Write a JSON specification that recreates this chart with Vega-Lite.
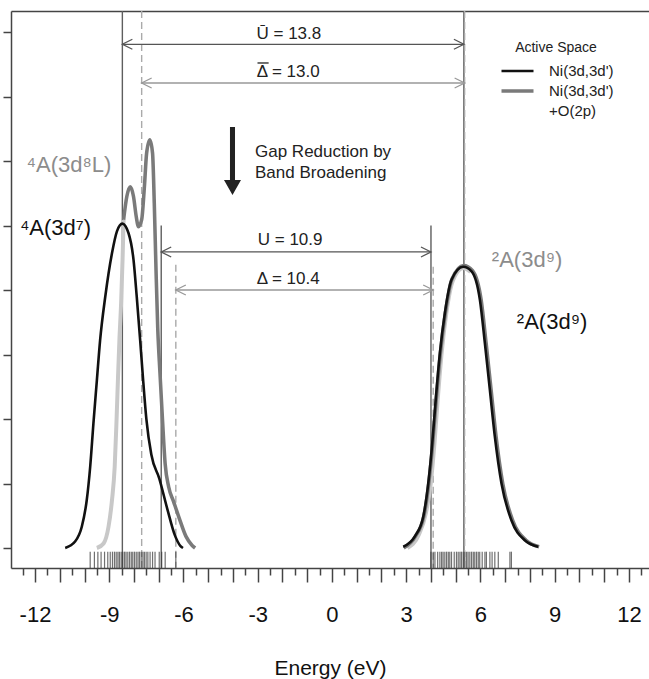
{
  "$schema": "https://vega.github.io/schema/vega-lite/v6.json",
  "width": 638,
  "height": 557,
  "autosize": "none",
  "padding": {"left": 11, "top": 11, "right": 0, "bottom": 111},
  "config": {
    "view": {"stroke": null},
    "axis": {"grid": false},
    "font": "Liberation Sans"
  },
  "datasets": {
    "vlines": [
      {"kind": "U", "x": -8.47, "ytop": 8.326},
      {"kind": "U", "x": 5.33, "ytop": 8.326},
      {"kind": "D", "x": -7.69, "ytop": 8.326},
      {"kind": "D", "x": 5.36, "ytop": 8.326},
      {"kind": "U", "x": -6.9, "ytop": 5.0},
      {"kind": "U", "x": 4.0, "ytop": 5.0},
      {"kind": "D", "x": -6.31, "ytop": 4.39},
      {"kind": "D", "x": 4.09, "ytop": 4.36}
    ],
    "arrows": [
      {"kind": "U", "x1": -8.47, "x2": 5.33, "y": 7.81},
      {"kind": "D", "x1": -7.69, "x2": 5.36, "y": 7.21},
      {"kind": "U", "x1": -6.9, "x2": 4.0, "y": 4.59},
      {"kind": "D", "x1": -6.31, "x2": 4.09, "y": 4.0}
    ],
    "arrowLabels": [
      {"label": "Ū = 13.8", "x": -3.05, "y": 7.89},
      {"label": "Δ = 13.0", "x": -3.04, "y": 7.3},
      {"label": "U = 10.9", "x": -3.0, "y": 4.7},
      {"label": "Δ = 10.4", "x": -3.04, "y": 4.1}
    ],
    "bars": [
      {"x": -3.01, "x2": -2.56, "y": 7.52}
    ],
    "gap": [{"x": -4.02, "y": 6.0}],
    "gapText": [
      {"label": "Gap Reduction by", "x": -3.11, "y": 6.06},
      {"label": "Band Broadening", "x": -3.11, "y": 5.74}
    ],
    "states": [
      {"label": "⁴A(3d⁸L)", "tone": "gray", "x": -12.34, "y": 5.83},
      {"label": "⁴A(3d⁷)", "tone": "black", "x": -12.61, "y": 4.85},
      {"label": "²A(3d⁹)", "tone": "gray", "x": 6.46, "y": 4.35},
      {"label": "²A(3d⁹)", "tone": "black", "x": 7.47, "y": 3.39}
    ],
    "rug": [
      {"x": -9.77}, {"x": -9.6}, {"x": -9.46}, {"x": -9.33}, {"x": -9.19}, {"x": -9.06}, {"x": -8.96}, {"x": -8.87}, {"x": -8.79}, {"x": -8.72}, {"x": -8.65}, {"x": -8.59}, {"x": -8.52}, {"x": -8.45}, {"x": -8.38}, {"x": -8.32}, {"x": -8.25}, {"x": -8.18}, {"x": -8.11}, {"x": -8.05}, {"x": -7.98}, {"x": -7.91}, {"x": -7.84}, {"x": -7.78}, {"x": -7.71}, {"x": -7.64}, {"x": -7.58}, {"x": -7.51}, {"x": -7.44}, {"x": -7.35}, {"x": -7.25}, {"x": -7.15}, {"x": -6.98}, {"x": -6.88}, {"x": -6.74}, {"x": -6.31},
      {"x": 4.0}, {"x": 4.09}, {"x": 4.16}, {"x": 4.27}, {"x": 4.36}, {"x": 4.43}, {"x": 4.49}, {"x": 4.56}, {"x": 4.63}, {"x": 4.7}, {"x": 4.76}, {"x": 4.83}, {"x": 4.94}, {"x": 5.03}, {"x": 5.1}, {"x": 5.17}, {"x": 5.23}, {"x": 5.3}, {"x": 5.37}, {"x": 5.44}, {"x": 5.5}, {"x": 5.57}, {"x": 5.64}, {"x": 5.71}, {"x": 5.77}, {"x": 5.84}, {"x": 5.91}, {"x": 5.97}, {"x": 6.07}, {"x": 6.18}, {"x": 6.24}, {"x": 6.38}, {"x": 6.47}, {"x": 6.58}, {"x": 6.72}, {"x": 7.19}, {"x": 7.25}
    ],
    "light": [
      {"seg": "L", "x": -9.5, "y": 0.0}, {"seg": "L", "x": -9.23, "y": 0.07}, {"seg": "L", "x": -9.03, "y": 0.33}, {"seg": "L", "x": -8.89, "y": 0.74}, {"seg": "L", "x": -8.78, "y": 1.26}, {"seg": "L", "x": -8.71, "y": 1.93}, {"seg": "L", "x": -8.65, "y": 2.6}, {"seg": "L", "x": -8.59, "y": 3.22}, {"seg": "L", "x": -8.52, "y": 3.8}, {"seg": "L", "x": -8.46, "y": 4.5}, {"seg": "L", "x": -8.42, "y": 5.09},
      {"seg": "R", "x": 3.05, "y": 0.0}, {"seg": "R", "x": 3.5, "y": 0.2}, {"seg": "R", "x": 3.8, "y": 0.55}, {"seg": "R", "x": 3.99, "y": 1.0}, {"seg": "R", "x": 4.14, "y": 1.62}, {"seg": "R", "x": 4.27, "y": 2.29}, {"seg": "R", "x": 4.43, "y": 3.02}, {"seg": "R", "x": 4.62, "y": 3.64}, {"seg": "R", "x": 4.88, "y": 4.14}, {"seg": "R", "x": 5.3, "y": 4.34}, {"seg": "R", "x": 5.6, "y": 4.28}
    ],
    "curves": [
      {"space": "Ni(3d,3d')+O(2p)", "seg": "L", "x": -8.42, "y": 5.09},
      {"space": "Ni(3d,3d')+O(2p)", "seg": "L", "x": -8.29, "y": 5.45},
      {"space": "Ni(3d,3d')+O(2p)", "seg": "L", "x": -8.15, "y": 5.6},
      {"space": "Ni(3d,3d')+O(2p)", "seg": "L", "x": -8.02, "y": 5.45},
      {"space": "Ni(3d,3d')+O(2p)", "seg": "L", "x": -7.91, "y": 5.14},
      {"space": "Ni(3d,3d')+O(2p)", "seg": "L", "x": -7.82, "y": 4.98},
      {"space": "Ni(3d,3d')+O(2p)", "seg": "L", "x": -7.69, "y": 5.09},
      {"space": "Ni(3d,3d')+O(2p)", "seg": "L", "x": -7.58, "y": 5.6},
      {"space": "Ni(3d,3d')+O(2p)", "seg": "L", "x": -7.49, "y": 6.12},
      {"space": "Ni(3d,3d')+O(2p)", "seg": "L", "x": -7.36, "y": 6.33},
      {"space": "Ni(3d,3d')+O(2p)", "seg": "L", "x": -7.25, "y": 6.12},
      {"space": "Ni(3d,3d')+O(2p)", "seg": "L", "x": -7.18, "y": 5.34},
      {"space": "Ni(3d,3d')+O(2p)", "seg": "L", "x": -7.11, "y": 4.31},
      {"space": "Ni(3d,3d')+O(2p)", "seg": "L", "x": -7.04, "y": 3.4},
      {"space": "Ni(3d,3d')+O(2p)", "seg": "L", "x": -6.95, "y": 2.71},
      {"space": "Ni(3d,3d')+O(2p)", "seg": "L", "x": -6.85, "y": 2.0},
      {"space": "Ni(3d,3d')+O(2p)", "seg": "L", "x": -6.74, "y": 1.3},
      {"space": "Ni(3d,3d')+O(2p)", "seg": "L", "x": -6.6, "y": 0.95},
      {"space": "Ni(3d,3d')+O(2p)", "seg": "L", "x": -6.4, "y": 0.72},
      {"space": "Ni(3d,3d')+O(2p)", "seg": "L", "x": -6.17, "y": 0.46},
      {"space": "Ni(3d,3d')+O(2p)", "seg": "L", "x": -5.9, "y": 0.18},
      {"space": "Ni(3d,3d')+O(2p)", "seg": "L", "x": -5.65, "y": 0.04},
      {"space": "Ni(3d,3d')+O(2p)", "seg": "L", "x": -5.53, "y": 0.0},
      {"space": "Ni(3d,3d')+O(2p)", "seg": "R", "x": 2.9, "y": 0.0},
      {"space": "Ni(3d,3d')+O(2p)", "seg": "R", "x": 3.37, "y": 0.18},
      {"space": "Ni(3d,3d')+O(2p)", "seg": "R", "x": 3.71, "y": 0.49},
      {"space": "Ni(3d,3d')+O(2p)", "seg": "R", "x": 3.91, "y": 1.0},
      {"space": "Ni(3d,3d')+O(2p)", "seg": "R", "x": 4.07, "y": 1.62},
      {"space": "Ni(3d,3d')+O(2p)", "seg": "R", "x": 4.21, "y": 2.29},
      {"space": "Ni(3d,3d')+O(2p)", "seg": "R", "x": 4.38, "y": 3.02},
      {"space": "Ni(3d,3d')+O(2p)", "seg": "R", "x": 4.58, "y": 3.64},
      {"space": "Ni(3d,3d')+O(2p)", "seg": "R", "x": 4.85, "y": 4.17},
      {"space": "Ni(3d,3d')+O(2p)", "seg": "R", "x": 5.32, "y": 4.38},
      {"space": "Ni(3d,3d')+O(2p)", "seg": "R", "x": 5.68, "y": 4.3},
      {"space": "Ni(3d,3d')+O(2p)", "seg": "R", "x": 6.03, "y": 3.84},
      {"space": "Ni(3d,3d')+O(2p)", "seg": "R", "x": 6.23, "y": 3.17},
      {"space": "Ni(3d,3d')+O(2p)", "seg": "R", "x": 6.43, "y": 2.45},
      {"space": "Ni(3d,3d')+O(2p)", "seg": "R", "x": 6.63, "y": 1.73},
      {"space": "Ni(3d,3d')+O(2p)", "seg": "R", "x": 6.9, "y": 1.0},
      {"space": "Ni(3d,3d')+O(2p)", "seg": "R", "x": 7.3, "y": 0.43},
      {"space": "Ni(3d,3d')+O(2p)", "seg": "R", "x": 7.84, "y": 0.12},
      {"space": "Ni(3d,3d')+O(2p)", "seg": "R", "x": 8.37, "y": 0.02},
      {"space": "Ni(3d,3d')", "seg": "L", "x": -10.78, "y": 0.0},
      {"space": "Ni(3d,3d')", "seg": "L", "x": -10.38, "y": 0.1},
      {"space": "Ni(3d,3d')", "seg": "L", "x": -10.11, "y": 0.33},
      {"space": "Ni(3d,3d')", "seg": "L", "x": -9.91, "y": 0.74},
      {"space": "Ni(3d,3d')", "seg": "L", "x": -9.77, "y": 1.26},
      {"space": "Ni(3d,3d')", "seg": "L", "x": -9.64, "y": 1.93},
      {"space": "Ni(3d,3d')", "seg": "L", "x": -9.5, "y": 2.6},
      {"space": "Ni(3d,3d')", "seg": "L", "x": -9.37, "y": 3.22},
      {"space": "Ni(3d,3d')", "seg": "L", "x": -9.16, "y": 3.9},
      {"space": "Ni(3d,3d')", "seg": "L", "x": -8.89, "y": 4.57},
      {"space": "Ni(3d,3d')", "seg": "L", "x": -8.69, "y": 4.91},
      {"space": "Ni(3d,3d')", "seg": "L", "x": -8.47, "y": 5.03},
      {"space": "Ni(3d,3d')", "seg": "L", "x": -8.22, "y": 4.88},
      {"space": "Ni(3d,3d')", "seg": "L", "x": -8.02, "y": 4.47},
      {"space": "Ni(3d,3d')", "seg": "L", "x": -7.89, "y": 3.9},
      {"space": "Ni(3d,3d')", "seg": "L", "x": -7.75, "y": 3.22},
      {"space": "Ni(3d,3d')", "seg": "L", "x": -7.64, "y": 2.65},
      {"space": "Ni(3d,3d')", "seg": "L", "x": -7.5, "y": 2.0},
      {"space": "Ni(3d,3d')", "seg": "L", "x": -7.3, "y": 1.45},
      {"space": "Ni(3d,3d')", "seg": "L", "x": -6.98, "y": 1.08},
      {"space": "Ni(3d,3d')", "seg": "L", "x": -6.65, "y": 0.6},
      {"space": "Ni(3d,3d')", "seg": "L", "x": -6.35, "y": 0.2},
      {"space": "Ni(3d,3d')", "seg": "L", "x": -6.12, "y": 0.03},
      {"space": "Ni(3d,3d')", "seg": "L", "x": -6.02, "y": 0.0},
      {"space": "Ni(3d,3d')", "seg": "R", "x": 2.88, "y": 0.02},
      {"space": "Ni(3d,3d')", "seg": "R", "x": 3.35, "y": 0.18},
      {"space": "Ni(3d,3d')", "seg": "R", "x": 3.69, "y": 0.49},
      {"space": "Ni(3d,3d')", "seg": "R", "x": 3.89, "y": 1.0},
      {"space": "Ni(3d,3d')", "seg": "R", "x": 4.05, "y": 1.62},
      {"space": "Ni(3d,3d')", "seg": "R", "x": 4.19, "y": 2.29},
      {"space": "Ni(3d,3d')", "seg": "R", "x": 4.36, "y": 3.02},
      {"space": "Ni(3d,3d')", "seg": "R", "x": 4.56, "y": 3.64},
      {"space": "Ni(3d,3d')", "seg": "R", "x": 4.83, "y": 4.16},
      {"space": "Ni(3d,3d')", "seg": "R", "x": 5.3, "y": 4.36},
      {"space": "Ni(3d,3d')", "seg": "R", "x": 5.64, "y": 4.29},
      {"space": "Ni(3d,3d')", "seg": "R", "x": 5.98, "y": 3.84},
      {"space": "Ni(3d,3d')", "seg": "R", "x": 6.18, "y": 3.17},
      {"space": "Ni(3d,3d')", "seg": "R", "x": 6.38, "y": 2.45},
      {"space": "Ni(3d,3d')", "seg": "R", "x": 6.58, "y": 1.73},
      {"space": "Ni(3d,3d')", "seg": "R", "x": 6.85, "y": 1.0},
      {"space": "Ni(3d,3d')", "seg": "R", "x": 7.25, "y": 0.43},
      {"space": "Ni(3d,3d')", "seg": "R", "x": 7.79, "y": 0.12},
      {"space": "Ni(3d,3d')", "seg": "R", "x": 8.33, "y": 0.02}
    ]
  },
  "resolve": {
    "axis": {"x": "independent", "y": "independent"},
    "scale": {"color": "independent", "strokeDash": "independent", "strokeWidth": "independent"}
  },
  "layer": [
    {
      "data": {"name": "vlines"},
      "mark": {"type": "rule", "strokeWidth": 1.4},
      "encoding": {
        "x": {"field": "x", "type": "quantitative",
          "scale": {"domain": [-12.97, 12.81], "nice": false, "zero": false},
          "axis": {"orient": "bottom", "values": [-12, -11, -10, -9, -8, -7, -6, -5, -4, -3, -2, -1, 0, 1, 2, 3, 4, 5, 6, 7, 8, 9, 10, 11, 12],
            "tickSize": 14, "tickWidth": 1.5, "tickColor": "#444", "domainColor": "#444", "domainWidth": 1.5,
            "labelExpr": "datum.value % 3 === 0 ? '' + datum.value : ''",
            "labelFont": "Liberation Sans", "labelFontSize": 22, "labelColor": "#111", "labelPadding": 22, "labelFlush": false, "labelOverlap": false,
            "title": "Energy (eV)", "titleFont": "Liberation Sans", "titleFontSize": 21, "titleFontWeight": "normal", "titleColor": "#111",
            "titleBaseline": "alphabetic", "titleY": 106}},
        "y": {"field": "ytop", "type": "quantitative",
          "scale": {"domain": [-0.31, 8.326], "nice": false, "zero": false},
          "axis": {"orient": "left", "values": [0, 1, 2, 3, 4, 5, 6, 7, 8], "labels": false, "title": null, "ticks": true, "tickSize": 8, "tickWidth": 1.5, "tickColor": "#444", "domain": true, "domainColor": "#444", "domainWidth": 1.5}},
        "y2": {"datum": -0.31},
        "color": {"field": "kind", "type": "nominal", "scale": {"domain": ["U", "D"], "range": ["#5e5e5e", "#aaaaaa"]}, "legend": null},
        "strokeDash": {"field": "kind", "type": "nominal", "scale": {"domain": ["U", "D"], "range": [[1, 0], [7, 4]]}, "legend": null}
      }
    },
    {
      "data": {"name": "rug"},
      "mark": {"type": "rule", "strokeWidth": 1.2, "color": "#333", "opacity": 0.7},
      "encoding": {
        "x": {"field": "x", "type": "quantitative",
          "scale": {"domain": [-12.97, 12.81], "nice": false, "zero": false},
          "axis": {"orient": "bottom", "values": [-12.5, -11.5, -10.5, -9.5, -8.5, -7.5, -6.5, -5.5, -4.5, -3.5, -2.5, -1.5, -0.5, 0.5, 1.5, 2.5, 3.5, 4.5, 5.5, 6.5, 7.5, 8.5, 9.5, 10.5, 11.5, 12.5],
            "tickSize": 7, "tickWidth": 1.5, "tickColor": "#444", "domain": false, "labels": false, "title": null}},
        "y": {"datum": -0.057, "type": "quantitative", "scale": {"domain": [-0.31, 8.326], "nice": false, "zero": false}, "axis": null},
        "y2": {"datum": -0.31}
      }
    },
    {
      "data": {"name": "arrows"},
      "mark": {"type": "rule", "strokeWidth": 1.3},
      "encoding": {
        "x": {"field": "x1", "type": "quantitative",
          "scale": {"domain": [-12.97, 12.81], "nice": false, "zero": false},
          "axis": {"orient": "top", "domain": true, "domainColor": "#444", "domainWidth": 1.5, "ticks": false, "labels": false, "title": null}},
        "x2": {"field": "x2"},
        "y": {"field": "y", "type": "quantitative", "scale": {"domain": [-0.31, 8.326], "nice": false, "zero": false}, "axis": null},
        "color": {"field": "kind", "type": "nominal", "scale": {"domain": ["U", "D"], "range": ["#555555", "#999999"]}, "legend": null}
      }
    },
    {
      "data": {"name": "arrows"},
      "mark": {"type": "point", "shape": "M 1 -0.5 L 0 0 L 1 0.5", "size": 400, "filled": false, "strokeWidth": 1.3, "opacity": 1},
      "encoding": {
        "x": {"field": "x1", "type": "quantitative", "scale": {"domain": [-12.97, 12.81], "nice": false, "zero": false}, "axis": null},
        "y": {"field": "y", "type": "quantitative", "scale": {"domain": [-0.31, 8.326], "nice": false, "zero": false}, "axis": null},
        "color": {"field": "kind", "type": "nominal", "scale": {"domain": ["U", "D"], "range": ["#555555", "#999999"]}, "legend": null}
      }
    },
    {
      "data": {"name": "arrows"},
      "mark": {"type": "point", "shape": "M -1 -0.5 L 0 0 L -1 0.5", "size": 400, "filled": false, "strokeWidth": 1.3, "opacity": 1},
      "encoding": {
        "x": {"field": "x2", "type": "quantitative", "scale": {"domain": [-12.97, 12.81], "nice": false, "zero": false}, "axis": null},
        "y": {"field": "y", "type": "quantitative", "scale": {"domain": [-0.31, 8.326], "nice": false, "zero": false}, "axis": null},
        "color": {"field": "kind", "type": "nominal", "scale": {"domain": ["U", "D"], "range": ["#555555", "#999999"]}, "legend": null}
      }
    },
    {
      "data": {"name": "arrowLabels"},
      "mark": {"type": "text", "font": "Liberation Sans", "fontSize": 17, "color": "#222", "align": "left", "baseline": "alphabetic"},
      "encoding": {
        "x": {"field": "x", "type": "quantitative", "scale": {"domain": [-12.97, 12.81], "nice": false, "zero": false}, "axis": null},
        "y": {"field": "y", "type": "quantitative", "scale": {"domain": [-0.31, 8.326], "nice": false, "zero": false}, "axis": null},
        "text": {"field": "label"}
      }
    },
    {
      "data": {"name": "bars"},
      "mark": {"type": "rule", "strokeWidth": 1.3, "color": "#222"},
      "encoding": {
        "x": {"field": "x", "type": "quantitative", "scale": {"domain": [-12.97, 12.81], "nice": false, "zero": false}, "axis": null},
        "x2": {"field": "x2"},
        "y": {"field": "y", "type": "quantitative", "scale": {"domain": [-0.31, 8.326], "nice": false, "zero": false}, "axis": null}
      }
    },
    {
      "data": {"name": "gap"},
      "mark": {"type": "point", "shape": "M -0.074 -1 L 0.074 -1 L 0.074 0.56 L 0.25 0.56 L 0 1 L -0.25 0.56 L -0.074 0.56 Z", "size": 4624, "filled": true, "color": "#222", "opacity": 1, "strokeWidth": 0},
      "encoding": {
        "x": {"field": "x", "type": "quantitative", "scale": {"domain": [-12.97, 12.81], "nice": false, "zero": false}, "axis": null},
        "y": {"field": "y", "type": "quantitative", "scale": {"domain": [-0.31, 8.326], "nice": false, "zero": false}, "axis": null}
      }
    },
    {
      "data": {"name": "gapText"},
      "mark": {"type": "text", "font": "Liberation Sans", "fontSize": 17, "color": "#222", "align": "left", "baseline": "alphabetic"},
      "encoding": {
        "x": {"field": "x", "type": "quantitative", "scale": {"domain": [-12.97, 12.81], "nice": false, "zero": false}, "axis": null},
        "y": {"field": "y", "type": "quantitative", "scale": {"domain": [-0.31, 8.326], "nice": false, "zero": false}, "axis": null},
        "text": {"field": "label"}
      }
    },
    {
      "data": {"name": "light"},
      "mark": {"type": "line", "interpolate": "monotone", "color": "#c8c8c8", "strokeWidth": 4},
      "encoding": {
        "x": {"field": "x", "type": "quantitative", "scale": {"domain": [-12.97, 12.81], "nice": false, "zero": false}, "axis": null},
        "y": {"field": "y", "type": "quantitative", "scale": {"domain": [-0.31, 8.326], "nice": false, "zero": false}, "axis": null},
        "detail": {"field": "seg"}
      }
    },
    {
      "data": {"name": "curves"},
      "mark": {"type": "line", "interpolate": "monotone"},
      "encoding": {
        "x": {"field": "x", "type": "quantitative", "scale": {"domain": [-12.97, 12.81], "nice": false, "zero": false}, "axis": null},
        "y": {"field": "y", "type": "quantitative", "scale": {"domain": [-0.31, 8.326], "nice": false, "zero": false}, "axis": null},
        "detail": {"field": "seg"},
        "color": {"field": "space", "type": "nominal",
          "scale": {"domain": ["Ni(3d,3d')", "Ni(3d,3d')+O(2p)", "+O(2p)"], "range": ["#111111", "#7a7a7a", "rgba(255,255,255,0)"]},
          "legend": {"title": "Active Space", "orient": "none", "legendX": 488, "legendY": 30, "symbolType": "stroke", "symbolSize": 1024, "clipHeight": 14,
            "labelFont": "Liberation Sans", "labelFontSize": 15, "labelColor": "#222", "titleFont": "Liberation Sans", "titleFontSize": 14,
            "titleFontWeight": "normal", "titleColor": "#222", "titleAnchor": "middle", "padding": 0, "rowPadding": 5, "labelOffset": 13,
            "titlePadding": 9, "labelExpr": "datum.label === '+O(2p)' ? datum.label : replace(datum.label, '+O(2p)', '')"}},
        "strokeWidth": {"field": "space", "type": "nominal",
          "scale": {"domain": ["Ni(3d,3d')", "Ni(3d,3d')+O(2p)", "+O(2p)"], "range": [2.6, 4.5, 0]},
          "legend": {"title": "Active Space", "orient": "none", "legendX": 488, "legendY": 30, "symbolType": "stroke", "symbolSize": 1024, "clipHeight": 14,
            "labelFont": "Liberation Sans", "labelFontSize": 15, "labelColor": "#222", "titleFont": "Liberation Sans", "titleFontSize": 14,
            "titleFontWeight": "normal", "titleColor": "#222", "titleAnchor": "middle", "padding": 0, "rowPadding": 5, "labelOffset": 13,
            "titlePadding": 9, "labelExpr": "datum.label === '+O(2p)' ? datum.label : replace(datum.label, '+O(2p)', '')"}}
      }
    },
    {
      "data": {"name": "states"},
      "mark": {"type": "text", "font": "Liberation Sans", "fontSize": 22, "align": "left", "baseline": "alphabetic"},
      "encoding": {
        "x": {"field": "x", "type": "quantitative", "scale": {"domain": [-12.97, 12.81], "nice": false, "zero": false}, "axis": null},
        "y": {"field": "y", "type": "quantitative", "scale": {"domain": [-0.31, 8.326], "nice": false, "zero": false}, "axis": null},
        "text": {"field": "label"},
        "color": {"field": "tone", "type": "nominal", "scale": {"domain": ["gray", "black"], "range": ["#8c8c8c", "#111111"]}, "legend": null}
      }
    }
  ]
}
